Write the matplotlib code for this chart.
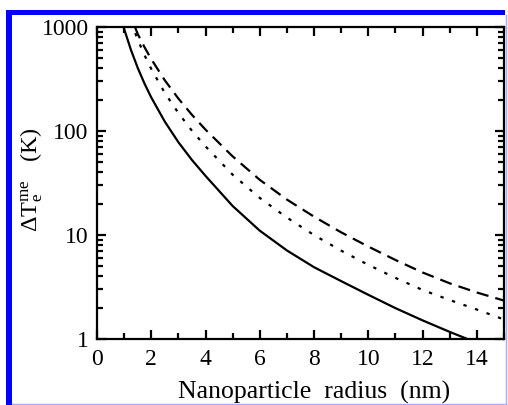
import matplotlib
matplotlib.use('Agg')
import matplotlib.pyplot as plt
from matplotlib.ticker import MultipleLocator, FixedLocator, FuncFormatter, NullFormatter
from matplotlib.patches import Rectangle
from matplotlib.lines import Line2D

plt.rcParams['font.family'] = ['Liberation Serif', 'DejaVu Serif']
plt.rcParams['mathtext.fontset'] = 'custom'
plt.rcParams['mathtext.rm'] = 'Liberation Serif'
plt.rcParams['mathtext.it'] = 'Liberation Serif:italic'

# ---- data ----
r_solid = [0.95, 1.0, 1.25, 1.5, 1.75, 2.0, 2.5, 3.0, 3.5, 4.0, 5.0, 6.0, 7.0, 8.0, 9.0,
           10.0, 11.0, 12.0, 13.0, 14.0]
t_solid = [1050, 959, 603, 405, 286, 210, 123, 78, 52.6, 37.0, 19.0, 11.0, 7.1, 4.9, 3.6,
           2.66, 1.98, 1.51, 1.17, 0.92]

r_dashed = [1.4, 1.5, 1.75, 2.0, 2.5, 3.0, 3.5, 4.0, 5.0, 6.0, 7.0, 8.0, 9.0, 10.0, 11.0,
            12.0, 13.0, 14.0, 15.0]
t_dashed = [1000, 857, 640, 491, 307, 205, 143, 103, 57, 33.9, 21.9, 15.0, 10.6, 7.74, 5.75,
            4.36, 3.43, 2.80, 2.34]

r_dotted = [1.25, 1.5, 1.75, 2.0, 2.5, 3.0, 3.5, 4.0, 5.0, 6.0, 7.0, 8.0, 9.0, 10.0, 11.0,
            12.0, 13.0, 14.0, 15.0]
t_dotted = [1124, 757, 537, 395, 232, 149, 100.5, 71.1, 38, 22.7, 14.7, 9.98, 7.07, 5.16, 3.87,
            2.96, 2.37, 1.92, 1.54]

x_major = [0, 2, 4, 6, 8, 10, 12, 14]
y_major = [1, 10, 100, 1000]

W, H = 508, 405
fig = plt.figure(figsize=(W / 100, H / 100), dpi=100)

# blue frame
blue = '#0000ff'
fig.patches.append(Rectangle((6 / W, 0), 6 / W, (H - 10) / H, transform=fig.transFigure,
                             facecolor=blue, edgecolor='none', zorder=0))
fig.patches.append(Rectangle((6 / W, (H - 15) / H), (505 - 6) / W, 5 / H, transform=fig.transFigure,
                             facecolor=blue, edgecolor='none', zorder=0))
fig.lines.append(Line2D([506 / W, 506 / W], [1 / H, (H - 15) / H], transform=fig.transFigure,
                        color='#a8a8ff', lw=1))
fig.lines.append(Line2D([12 / W, 506 / W], [1.5 / H, 1.5 / H], transform=fig.transFigure,
                        color='#a8a8ff', lw=1))

ax = fig.add_axes([97 / W, 66 / H, 407 / W, 312 / H])
ax.plot(r_solid, t_solid, color='black', lw=1.6, ls='-')
ax.plot(r_dashed, t_dashed, color='black', lw=1.6, ls=(0, (5.5, 3.2)))
ax.plot(r_dotted, t_dotted, color='black', lw=1.6, ls=(0, (1.5, 4.0)), dash_capstyle='butt')

ax.set_yscale('log')
ax.set_xlim(0, 15)
ax.set_ylim(1, 1000)

ax.xaxis.set_major_locator(FixedLocator(x_major))
ax.xaxis.set_minor_locator(MultipleLocator(1))
ax.yaxis.set_major_locator(FixedLocator(y_major))
ax.yaxis.set_minor_locator(FixedLocator([m * 10 ** e for e in range(0, 3) for m in range(2, 10)]))
ax.yaxis.set_major_formatter(FuncFormatter(lambda v, p: f'{v:g}'))
ax.yaxis.set_minor_formatter(NullFormatter())

for s in ax.spines.values():
    s.set_linewidth(1.6)
ax.tick_params(which='both', direction='in', top=True, right=True, width=1.6, labelsize=17)
ax.tick_params(which='major', length=6.5)
ax.tick_params(which='minor', length=4)
ax.tick_params(axis='y', pad=6)
ax.tick_params(axis='x', pad=7)

ax.set_xlabel('Nanoparticle  radius  (nm)', fontsize=18.5)
ax.xaxis.set_label_coords(0.533, -0.135)
ax.set_ylabel(r'$\Delta\mathrm{T}_\mathrm{e}^\mathrm{me}$   (K)', fontsize=17.5)
ax.yaxis.set_label_coords(-0.128, 0.51)

fig.savefig('out.png', dpi=100)
